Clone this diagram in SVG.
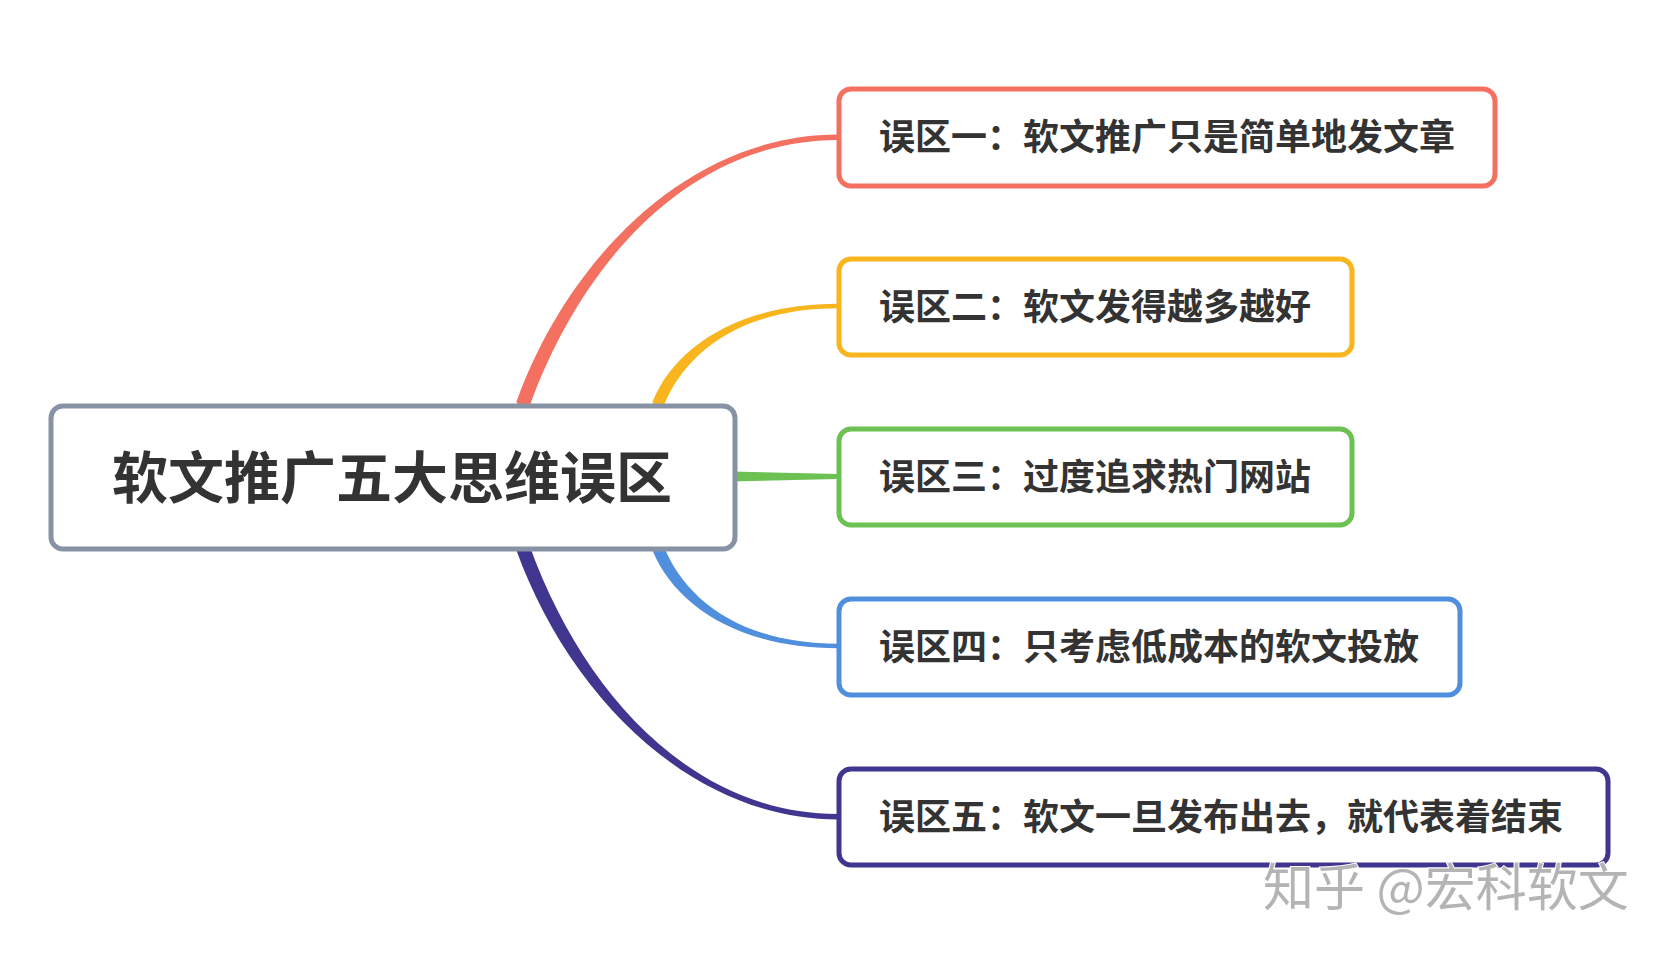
<svg xmlns="http://www.w3.org/2000/svg" width="1664" height="956" viewBox="0 0 1664 956">
<style>
.box{fill:#ffffff;stroke-width:5}
.t{font-family:"Noto Sans CJK SC","Noto Sans",sans-serif;font-weight:bold;fill:#333333}
.sub{font-size:36px;dominant-baseline:central}
.wm{font-family:"Noto Sans CJK SC",sans-serif;font-size:51px;fill:#b4b4b4;stroke:#ffffff;stroke-width:2;paint-order:stroke}
</style>
<rect width="1664" height="956" fill="#ffffff"/>
<g id="connectors">
<path d="M 528 425 L 529.6 406.2 C 581.6 262.2 690 140 838 140 L 838 134.5 C 690 134.5 568.4 257.8 516.4 401.8 Z" fill="#f47060"/>
<path d="M 662 425 L 663.5 406.3 C 685 352.5 741 308.3 838 308.3 L 838 303.7 C 739 303.7 675 346.5 652.5 401.7 Z" fill="#f8b51e"/>
<path d="M 730 471.5 L 838 474 L 838 479 L 730 481.5 Z" fill="#6cc153"/>
<path d="M 662 530 L 652.5 550.3 C 675 605.5 739 648.3 838 648.3 L 838 643.7 C 741 643.7 685 599.5 663.5 545.7 Z" fill="#4f8fdd"/>
<path d="M 528 530 L 516.4 550.2 C 568.4 694.2 690 819.5 838 819.5 L 838 814 C 690 814 581.6 689.8 529.6 545.8 Z" fill="#40358f"/>
</g>
<g id="center">
<rect class="box" x="51" y="406" width="684" height="143" rx="12" stroke="#8793a5"/>
<text class="t" x="392" y="473" font-size="56" font-weight="900" text-anchor="middle" dominant-baseline="central">软文推广五大思维误区</text>
</g>
<g id="node1">
<rect class="box" x="839" y="89" width="656" height="97" rx="12" stroke="#f47060"/>
<text class="t sub" x="879" y="134">误区一：软文推广只是简单地发文章</text>
</g>
<g id="node2">
<rect class="box" x="839" y="259" width="513" height="96" rx="12" stroke="#f8b51e"/>
<text class="t sub" x="879" y="304">误区二：软文发得越多越好</text>
</g>
<g id="node3">
<rect class="box" x="839" y="429" width="513" height="96" rx="12" stroke="#6cc153"/>
<text class="t sub" x="879" y="474">误区三：过度追求热门网站</text>
</g>
<g id="node4">
<rect class="box" x="839" y="599" width="621" height="96" rx="12" stroke="#4f8fdd"/>
<text class="t sub" x="879" y="644">误区四：只考虑低成本的软文投放</text>
</g>
<g id="node5">
<rect class="box" x="839" y="769" width="769" height="96" rx="12" stroke="#40358f"/>
<text class="t sub" x="879" y="814">误区五：软文一旦发布出去，就代表着结束</text>
</g>
<text class="wm" x="1263" y="906">知乎 @宏科软文</text>
</svg>
